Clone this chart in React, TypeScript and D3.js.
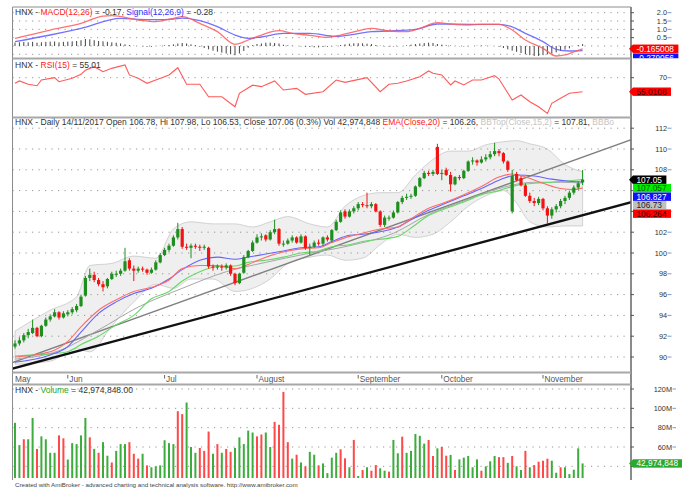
import React from "react";
import * as d3 from "d3";

const FONT = "'Liberation Sans', Arial, Helvetica, sans-serif";

// ---- Candles (HNX daily, mid-May .. 14/11/2017) ----
const opens = [
  91.0, 91.3, 91.6, 92.1, 92.3, 92.8, 92.0, 93.0, 93.6, 93.9,
  94.3, 93.8, 94.1, 94.3, 94.5, 94.9, 95.9, 97.6, 97.9, 97.4,
  97.0, 96.8, 97.5, 97.9, 98.0, 98.3, 99.3, 98.5, 98.3, 98.5,
  98.4, 98.1, 98.4, 99.1, 99.8, 100.3, 100.7, 101.5, 102.3, 100.6,
  100.5, 100.7, 100.6, 100.5, 100.5, 98.7, 98.6, 98.7, 98.6, 98.8,
  98.0, 97.1, 98.1, 99.6, 100.2, 101.0, 101.5, 101.7, 101.3, 102.0,
  102.3, 100.9, 100.9, 101.2, 101.5, 101.0, 101.6, 100.5, 100.6, 101.0,
  100.9, 101.5, 101.2, 102.2, 103.0, 104.0, 103.5, 104.0, 104.3, 104.7,
  104.6, 104.5, 104.7, 104.0, 102.7, 103.4, 103.4, 103.9, 104.9, 105.3,
  105.4, 105.5, 106.4, 107.2, 107.7, 107.6, 110.2, 107.6, 108.0, 107.5,
  106.6, 107.3, 107.2, 107.9, 108.8, 108.9, 108.7, 109.0, 109.2, 109.5,
  109.8, 109.6, 108.8, 104.0, 107.6, 107.2, 106.5, 105.5, 105.0, 104.8,
  105.2, 104.3, 103.6, 104.2, 104.5, 105.0, 105.3, 105.8, 106.3, 106.78,
];
const highs = [
  91.6, 91.9, 92.3, 92.7, 93.6, 92.9, 93.1, 93.8, 94.1, 94.6,
  94.4, 94.4, 94.5, 94.8, 95.1, 96.0, 97.8, 98.5, 98.2, 97.6,
  97.3, 97.6, 98.2, 98.3, 98.5, 100.5, 99.5, 98.8, 98.7, 98.7,
  98.5, 98.6, 99.3, 100.0, 100.5, 100.9, 101.7, 102.9, 102.5, 100.9,
  100.9, 100.9, 100.8, 100.8, 100.6, 98.9, 98.9, 98.9, 99.0, 98.9,
  98.1, 98.1, 99.8, 100.3, 101.2, 101.8, 101.9, 101.8, 102.2, 103.2,
  102.4, 101.2, 101.4, 101.7, 101.6, 101.8, 101.7, 100.9, 101.2, 101.3,
  101.6, 101.7, 102.3, 103.2, 104.1, 104.2, 104.2, 104.5, 104.9, 104.9,
  105.8, 104.9, 104.8, 104.1, 103.6, 103.6, 104.1, 105.0, 105.5, 105.7,
  105.7, 106.5, 107.3, 107.9, 107.9, 108.0, 110.5, 108.0, 108.2, 107.8,
  107.4, 107.5, 108.0, 108.9, 109.2, 109.0, 109.3, 109.5, 109.8, 110.6,
  110.0, 109.7, 108.9, 108.0, 107.8, 107.4, 106.7, 105.8, 105.3, 105.4,
  105.3, 104.5, 104.4, 104.7, 105.2, 105.5, 106.0, 106.5, 106.9, 107.98,
];
const lows = [
  90.8, 91.1, 91.4, 91.8, 92.2, 91.9, 91.9, 92.9, 93.4, 93.8,
  93.6, 93.7, 93.9, 94.1, 94.3, 94.8, 95.8, 97.3, 97.2, 96.8,
  96.3, 96.6, 97.4, 97.7, 97.8, 98.2, 98.3, 97.3, 98.1, 98.2,
  97.9, 98.0, 98.3, 99.0, 99.7, 100.1, 100.6, 101.3, 100.4, 100.3,
  99.5, 100.4, 100.2, 100.3, 98.5, 98.3, 98.4, 98.3, 98.4, 97.8,
  96.9, 97.0, 98.0, 99.5, 100.1, 100.9, 101.2, 101.1, 101.2, 101.8,
  100.7, 100.6, 100.8, 101.0, 100.9, 100.9, 100.3, 99.8, 100.5, 100.7,
  100.7, 101.1, 101.0, 102.1, 102.9, 103.3, 103.4, 103.8, 104.1, 104.4,
  104.3, 104.3, 103.9, 102.5, 102.5, 103.1, 103.3, 103.8, 104.7, 105.1,
  105.2, 105.4, 106.3, 107.1, 107.4, 107.4, 107.5, 107.0, 107.4, 105.9,
  106.5, 107.0, 107.1, 107.8, 108.5, 108.4, 108.6, 108.8, 109.0, 109.3,
  109.3, 108.6, 107.8, 103.8, 106.9, 106.4, 105.4, 104.8, 104.5, 104.6,
  104.1, 102.8, 103.3, 103.9, 104.3, 104.7, 105.1, 105.6, 106.1, 106.53,
];
const closes = [
  91.3, 91.6, 92.1, 92.4, 92.8, 92.0, 93.0, 93.6, 93.9, 94.3,
  93.8, 94.2, 94.3, 94.6, 94.9, 95.8, 97.6, 97.9, 97.4, 97.0,
  96.7, 97.5, 98.0, 98.0, 98.3, 99.2, 98.5, 98.3, 98.5, 98.4,
  98.1, 98.4, 99.1, 99.8, 100.3, 100.7, 101.5, 102.3, 100.6, 100.5,
  100.7, 100.6, 100.5, 100.6, 98.7, 98.6, 98.7, 98.6, 98.8, 98.0,
  97.1, 98.0, 99.6, 100.2, 101.0, 101.5, 101.6, 101.3, 102.0, 102.3,
  100.9, 100.9, 101.2, 101.5, 101.0, 101.6, 100.5, 100.6, 101.0, 100.9,
  101.5, 101.3, 102.2, 103.0, 103.9, 103.5, 104.0, 104.3, 104.7, 104.6,
  104.5, 104.7, 104.0, 102.7, 103.4, 103.4, 103.9, 104.9, 105.3, 105.4,
  105.5, 106.4, 107.2, 107.7, 107.6, 107.8, 107.6, 107.7, 107.5, 106.6,
  107.3, 107.2, 107.9, 108.8, 108.9, 108.7, 109.0, 109.2, 109.5, 109.8,
  109.6, 108.8, 108.0, 107.4, 107.0, 106.5, 105.5, 105.0, 104.8, 105.2,
  104.3, 103.6, 104.2, 104.5, 105.0, 105.3, 105.8, 106.3, 106.7, 107.06,
];

// ---- Volume (millions) and bar colour ----
const volumes = [
  85, 62, 68, 68, 90, 58, 71, 68, 54, 54, 72, 69, 47, 64, 63, 72, 90, 70, 58, 54,
  65, 51, 44, 56, 63, 63, 65, 53, 48, 53, 41, 39, 40, 41, 67, 64, 63, 97, 94, 106,
  60, 54, 59, 56, 76, 53, 63, 54, 58, 55, 59, 70, 63, 77, 75, 71, 73, 75, 60, 86,
  83, 117, 65, 48, 52, 44, 40, 55, 52, 41, 43, 33, 49, 54,
  57.6, 48.3, 39, 67.3, 30, 36.2, 39, 35.5, 41.3, 38, 35.5, 34.5, 67.3, 53.5, 70.7, 54,
  56, 73.5, 71.6, 63.5, 67.3, 50.7, 58.6, 60, 51, 51.8, 36.2, 47.2, 49, 50.7, 39, 47.2,
  35.5, 40, 45.2, 50.7, 49.5, 49.5, 43.6, 50.7, 40, 36.2, 56, 39, 41.3, 44.8, 45.8, 47.9,
  45.8, 33.4, 39, 39, 32, 36.5, 58.6, 42.97,
];
const volumeColors = (
  "ggrggrggggrrgggggrgrggrgggrrrgrggggggrrgggrrrgrgrr" +
  "gggggrrggrrrrgrgrgg" + "rggg" +
  "grrgrgrgrrggrggrgggggrrgrrgrgggggrgggrrgrggrgrrrrggrggggg"
).split("");

// ---- Indicators: [bar index, value] ----
const macdLine: [number, number][] = [
  [0, 0.46], [8, 0.96], [15, 1.36], [20, 1.8], [22, 1.83], [28, 1.56], [32, 1.46], [36, 1.66],
  [38, 1.76], [42, 1.36], [46, 0.86], [50, 0.1], [53, 0.36], [56, 0.66], [60, 0.92], [63, 0.76],
  [67, 0.64], [71, 0.52], [73, 0.6], [77, 0.85], [81, 1.06], [85, 0.9], [89, 0.86], [92, 1.06],
  [96, 1.4], [99, 1.32], [103, 1.26], [106, 1.3], [110, 1.3], [113, 0.96], [116, 0.36],
  [120, -0.14], [123, -0.6], [125, -0.54], [127, -0.35], [129, -0.17],
];
const signalLine: [number, number][] = [
  [0, 0.26], [8, 0.66], [15, 1.06], [24, 1.66], [28, 1.6], [32, 1.58], [36, 1.62], [38, 1.68],
  [42, 1.53], [46, 1.16], [50, 0.66], [53, 0.46], [56, 0.54], [61, 0.76], [67, 0.76], [73, 0.58],
  [77, 0.7], [81, 0.86], [85, 0.9], [91, 1.0], [96, 1.32], [104, 1.3], [110, 1.3], [113, 1.15],
  [116, 0.76], [120, 0.26], [123, -0.2], [126, -0.3], [129, -0.28],
];
const macdHist = [
  0.2, 0.22, 0.24, 0.22, 0.25, 0.2, 0.22, 0.25, 0.26, 0.27, 0.22,
  0.25, 0.26, 0.28, 0.3, 0.35, 0.42, 0.4, 0.35, 0.3,
  0.28, 0.25, 0.22, 0.2, 0.15,
  0.1, 0.05, 0.02, 0.0, -0.02, -0.05, -0.05, 0.0, 0.02, 0.04, 0.06,
  0.1, 0.15, 0.18, 0.15, 0.1, 0.05,
  -0.05, -0.12, -0.2, -0.28, -0.34, -0.4, -0.45, -0.5, -0.55, -0.45, -0.3,
  -0.1, 0.05, 0.12, 0.15, 0.2, 0.2, 0.18, 0.15,
  0.08, 0.04, 0.02, 0.0, -0.03, -0.05, -0.06, -0.08, -0.08, -0.06, -0.05, -0.02, 0.02,
  0.06, 0.1, 0.14, 0.16, 0.17, 0.16, 0.14, 0.12,
  0.06, 0.02, -0.02, -0.04, -0.03, -0.02, 0.0,
  0.04, 0.08, 0.12, 0.15, 0.18, 0.2, 0.18,
  0.12, 0.08, 0.05, 0.03, 0.0, -0.02, -0.03, -0.02, 0.0, 0.02, 0.03, 0.02, 0.01, 0.0,
  -0.05, -0.12, -0.2, -0.28, -0.35, -0.42, -0.5, -0.55, -0.6, -0.6, -0.55, -0.5, -0.45, -0.38, -0.3, -0.22, -0.14,
  0.0, 0.06, 0.11,
];
const rsiLine: [number, number][] = [
  [0, 64], [1, 66.5], [3, 62.9], [5, 61.4], [6, 67.5], [9, 70], [10, 65.7], [13, 69.3],
  [15, 73.6], [16, 78], [18, 81.8], [20, 76.4], [22, 80], [25, 83.6], [26, 73], [28, 69.3],
  [30, 64], [32, 67.5], [35, 72.9], [37, 80.7], [39, 63], [42, 63], [44, 49.6], [47, 49.6],
  [50, 38.9], [51, 53.3], [54, 62], [56, 60.4], [59, 66.5], [61, 56.8], [64, 58.6], [66, 52.2],
  [70, 55], [73, 67.5], [75, 65], [80, 70], [83, 55], [85, 63], [87, 64], [89, 66.5],
  [92, 71], [94, 77.2], [95, 74.7], [97, 72.9], [99, 62.2], [100, 66.5], [102, 62.2],
  [104, 67.5], [106, 67.5], [109, 72.2], [110, 68.6], [113, 46.1], [115, 51.5], [117, 44.3],
  [119, 38.9], [121, 31.8], [122, 42.6], [124, 48], [126, 53.3], [129, 55.01],
];
const emaRed: [number, number][] = [
  [0, 90.0], [8, 90.5], [12, 91.5], [15, 92.9], [19, 94.5], [23, 95.5], [27, 96.3], [31, 96.7],
  [35, 97.4], [38, 98.5], [42, 98.8], [46, 98.8], [50, 98.5], [53, 98.9], [57, 99.6], [61, 100.1],
  [65, 100.4], [69, 100.5], [72, 101.0], [76, 101.6], [79, 101.9], [83, 102.3], [87, 102.5],
  [90, 103.3], [94, 104.3], [98, 104.9], [102, 105.6], [106, 106.4], [110, 107.3], [113, 107.6],
  [116, 107.3], [120, 106.7], [124, 106.2], [127, 106.1], [129, 106.26],
];
const maBlue: [number, number][] = [
  [0, 89.5], [8, 90.2], [12, 91.0], [15, 92.4], [19, 94.2], [23, 95.3], [27, 96.1], [31, 96.6],
  [35, 97.5], [38, 98.4], [42, 99.3], [46, 99.6], [50, 99.4], [53, 99.6], [57, 99.9], [61, 100.2],
  [65, 100.5], [69, 100.6], [72, 101.1], [76, 101.7], [79, 101.8], [87, 102.5], [90, 103.2],
  [94, 104.1], [98, 104.8], [102, 105.5], [106, 106.2], [110, 107.0], [114, 107.5], [118, 107.4],
  [122, 107.1], [126, 106.9], [129, 106.83],
];
const maGreen: [number, number][] = [
  [0, 90.1], [8, 90.3], [12, 90.5], [15, 91.2], [19, 92.0], [23, 93.1], [27, 94.0], [31, 95.6],
  [35, 96.3], [38, 97.3], [42, 98.2], [46, 98.7], [50, 98.75], [53, 99.1], [57, 99.3], [61, 99.6],
  [65, 100.0], [69, 100.2], [72, 100.6], [76, 100.8], [79, 101.1], [87, 101.6], [90, 102.4],
  [94, 103.6], [98, 104.3], [102, 104.9], [106, 105.6], [110, 106.0], [114, 106.5], [118, 106.7],
  [122, 106.8], [126, 106.95], [129, 107.06],
];
const maGray: [number, number][] = [
  [0, 89.8], [10, 90.6], [19, 92.6], [28, 94.8], [38, 96.6], [48, 98.2], [57, 99.1], [66, 99.9],
  [76, 100.7], [86, 101.9], [94, 103.7], [102, 105.0], [110, 106.2], [118, 106.8], [124, 106.8],
  [129, 106.73],
];
const bbBand: [number, number, number][] = [
  [0, 92.5, 89.3], [8, 94.5, 89.6], [14, 95.8, 90.8], [17, 98.8, 90.5], [22, 99.0, 93.0],
  [27, 99.7, 95.3], [32, 99.5, 97.0], [36, 102.3, 96.6], [40, 103.0, 97.5], [45, 102.8, 97.5],
  [50, 102.8, 96.3], [54, 102.5, 96.6], [58, 103.0, 97.5], [62, 103.5, 99.0], [67, 102.8, 99.6],
  [71, 102.5, 99.8], [75, 104.5, 99.3], [79, 105.5, 99.5], [83, 105.8, 100.8], [87, 105.8, 101.8],
  [91, 107.5, 101.5], [95, 109.0, 101.8], [99, 109.8, 103.0], [103, 109.8, 104.5],
  [107, 110.4, 105.5], [111, 110.7, 106.0], [114, 110.8, 104.8], [117, 110.5, 103.0],
  [121, 110.0, 102.5], [125, 108.5, 102.6], [129, 107.81, 102.6],
];
const trendUpper: [number, number][] = [[-1, 89.4], [141, 111.05]];
const trendLower: [number, number][] = [[-1, 88.83], [141, 105.0]];

const monthNames = ["May", "Jun", "Jul", "August", "September", "October", "November"];
const monthStart = [0, 12, 34, 55, 78, 97, 120];
const priceTicks = [90, 92, 94, 96, 98, 100, 102, 104, 106, 108, 110, 112];
const priceTickLabels = [90, 92, 94, 96, 98, 100, 102, 108, 110, 112]; // 104/106 sit under value boxes
const macdTicks = [-0.5, 0, 0.5, 1, 1.5, 2];
const macdLabels = ["0.5", "1.0", "1.5", "2.0"];
const volTicks = [40, 60, 80, 100, 120];
const volTickLabels = [60, 80, 100, 120];

const L = 12.5;
const R = 631;

function textW(s: string, fs: number) {
  let w = 0;
  for (const c of s) {
    if (/[0-9]/.test(c)) w += 0.556;
    else if (c === "." || c === ",") w += 0.278;
    else if (c === "-") w += 0.333;
    else w += 0.6;
  }
  return w * fs;
}

function ValueBox({ y, text, bg, fg, arrow, h = 8.4 }: { y: number; text: string; bg: string; fg: string; arrow?: boolean; h?: number }) {
  const w = textW(text, 8.3) + 8;
  return (
    <g>
      {arrow && <polygon points={`${R - 2},${y} ${633},${y - h / 2} ${633},${y + h / 2}`} fill={bg} />}
      <rect x={633} y={y - h / 2} width={w} height={h} fill={bg} />
      <text x={636.5} y={y + 2.9} fontSize={8.3} fill={fg} fontFamily={FONT}>{text}</text>
    </g>
  );
}

function Dotted({ y }: { y: number }) {
  return <line x1={L} x2={R} y1={y} y2={y} stroke="#8a8a8a" strokeWidth={0.9} strokeDasharray="1.2 5.3" />;
}

export default function App() {
  const n = closes.length;
  const x = d3.scaleLinear().domain([0, n - 1]).range([15, 582.6]);
  const yM = d3.scaleLinear().domain([0, 2]).range([46, 12.7]);
  const yR = d3.scaleLinear().domain([55.01, 70]).range([91.7, 77.7]);
  const yP = d3.scaleLinear().domain([90, 112]).range([357, 128.2]);
  const yV = d3.scaleLinear().domain([60, 120]).range([447, 389]);

  const mk = (ys: d3.ScaleLinear<number, number>) =>
    d3.line<[number, number]>().x((d) => x(d[0])).y((d) => ys(d[1])).curve(d3.curveMonotoneX);
  const straight = (ys: d3.ScaleLinear<number, number>) =>
    d3.line<[number, number]>().x((d) => x(d[0])).y((d) => ys(d[1]));
  const band = d3
    .area<[number, number, number]>()
    .x((d) => x(d[0]))
    .y0((d) => yP(d[2]))
    .y1((d) => yP(d[1]))
    .curve(d3.curveMonotoneX);

  const green = "#1e8f1e";
  const red = "#f01414";
  const volBottom = 478;

  return (
    <svg
      width={682}
      height={488}
      viewBox="0 0 682 488"
      style={{ position: "absolute", left: 0, top: 0, background: "#fff" }}
      fontFamily={FONT}
    >
      <defs>
        <clipPath id="cM"><rect x={L} y={7.5} width={R - L} height={50.5} /></clipPath>
        <clipPath id="cR"><rect x={L} y={59.5} width={R - L} height={57} /></clipPath>
        <clipPath id="cP"><rect x={L} y={118.5} width={R - L} height={253.5} /></clipPath>
        <clipPath id="cV"><rect x={L} y={385.5} width={R - L} height={93} /></clipPath>
        <clipPath id="cPT"><rect x={L} y={110} width={628 - L} height={20} /></clipPath>
        <clipPath id="cMR"><rect x={R - 3} y={0} width={60} height={58.2} /></clipPath>
      </defs>
      <rect x={0} y={0} width={682} height={488} fill="#fff" />

      {/* ===== MACD pane ===== */}
      {macdTicks.map((t) => <Dotted key={"m" + t} y={yM(t)} />)}
      <g clipPath="url(#cM)">
        {macdHist.map((h, i) => (
          <line key={i} x1={x(i)} x2={x(i)} y1={yM(0)} y2={yM(h)} stroke="#444" strokeWidth={1} />
        ))}
        <path d={mk(yM)(signalLine) || ""} fill="none" stroke="#5a5aff" strokeWidth={1.3} strokeOpacity={0.85} />
        <path d={mk(yM)(macdLine) || ""} fill="none" stroke="#ff5a5a" strokeWidth={1.3} strokeOpacity={0.85} />
      </g>
      <text x={15} y={15} fontSize={8.5} fill="#333">
        HNX - <tspan fill="#ff2020">MACD(12,26)</tspan> = -0.17, <tspan fill="#3030ff">Signal(12,26,9)</tspan> = -0.28
      </text>

      {/* ===== RSI pane ===== */}
      <Dotted y={yR(70)} />
      <g clipPath="url(#cR)">
        <path d={straight(yR)(rsiLine) || ""} fill="none" stroke="#ff5a5a" strokeWidth={1.1} />
      </g>
      <text x={15} y={67.5} fontSize={8.5} fill="#333">
        HNX - <tspan fill="#ff2020">RSI(15)</tspan> = 55.01
      </text>

      {/* ===== Price pane ===== */}
      <g clipPath="url(#cP)">
        <path d={band(bbBand) || ""} fill="#efefef" stroke="#c8c8c8" strokeWidth={0.8} />
        {priceTicks.map((t) => <Dotted key={"p" + t} y={yP(t)} />)}
        <path d={straight(yP)(trendUpper) || ""} stroke="#808080" strokeWidth={1.4} fill="none" />
        <path d={straight(yP)(trendLower) || ""} stroke="#111" strokeWidth={2.3} fill="none" />
        <path d={mk(yP)(maGray) || ""} fill="none" stroke="#a6a6a6" strokeWidth={1} />
        <path d={mk(yP)(maGreen) || ""} fill="none" stroke="#66d866" strokeWidth={1.1} />
        <path d={mk(yP)(maBlue) || ""} fill="none" stroke="#6464ff" strokeWidth={1.1} />
        <path d={mk(yP)(emaRed) || ""} fill="none" stroke="#ff6a6a" strokeWidth={1.1} />
        {closes.map((c, i) => {
          const o = opens[i];
          const up = c >= o;
          const col = up ? green : red;
          const top = yP(Math.max(o, c));
          const h = Math.max(1, Math.abs(yP(o) - yP(c)));
          return (
            <g key={i}>
              <line x1={x(i)} x2={x(i)} y1={yP(highs[i])} y2={yP(lows[i])} stroke={col} strokeWidth={1} />
              <rect x={x(i) - 1.6} y={top} width={3.2} height={h} fill={col} />
            </g>
          );
        })}
      </g>
      <g clipPath="url(#cPT)">
        <text x={15} y={124.5} fontSize={8.5} fill="#333">
          HNX - Daily 14/11/2017 Open 106.78, Hi 107.98, Lo 106.53, Close 107.06 (0.3%) Vol 42,974,848{" "}
          <tspan fill="#ff2020">EMA(Close,20)</tspan> = 106.26, <tspan fill="#c4c4c4">BBTop(Close,15,2)</tspan> = 107.81,{" "}
          <tspan fill="#c4c4c4">BBBo</tspan>
        </text>
      </g>

      {/* ===== Month strip ===== */}
      {monthNames.map((m, k) => (
        <g key={m}>
          {k > 0 && <line x1={x(monthStart[k])} x2={x(monthStart[k])} y1={375} y2={378.5} stroke="#555" strokeWidth={0.9} />}
          <text x={k > 0 ? x(monthStart[k]) + 1.5 : 15} y={382.3} fontSize={8.3} fill="#555">{m}</text>
        </g>
      ))}

      {/* ===== Volume pane ===== */}
      {volTicks.map((t) => <Dotted key={"v" + t} y={yV(t)} />)}
      <g clipPath="url(#cV)">
        {volumes.map((v, i) => (
          <rect
            key={i}
            x={x(i) - 1}
            y={yV(v)}
            width={2}
            height={volBottom - yV(v)}
            fill={volumeColors[i] === "g" ? "#3cac3c" : "#ff4848"}
          />
        ))}
      </g>
      <text x={15} y={393} fontSize={8.5} fill="#333">
        HNX - <tspan fill="#2aa82a">Volume</tspan> = 42,974,848.00
      </text>

      {/* ===== Frames ===== */}
      <line x1={L} x2={L} y1={7} y2={480} stroke="#8c8c8c" strokeWidth={1} />
      <line x1={R} x2={R} y1={7} y2={480} stroke="#6e6e6e" strokeWidth={1.6} />
      <line x1={L} x2={R} y1={7} y2={7} stroke="#8c8c8c" strokeWidth={1} />
      {[58.5, 117.5, 372.5, 384.5].map((y) => (
        <rect key={y} x={L} y={y - 1} width={R - L} height={2} fill="#a8a8a8" />
      ))}

      {/* ===== Right axis labels ===== */}
      {macdTicks.filter((t) => t >= 0).map((t) => (
        <g key={"mt" + t}>
          <line x1={R} x2={R + 3} y1={yM(t)} y2={yM(t)} stroke="#555" />
          <line x1={667.5} x2={671.5} y1={yM(t)} y2={yM(t)} stroke="#7a9ccc" />
        </g>
      ))}
      {macdLabels.map((s, k) => (
        <text key={s} x={667} y={yM((k + 1) * 0.5) + 2.6} fontSize={7.3} textAnchor="end" fill="#333">{s}</text>
      ))}
      <g>
        <line x1={R} x2={R + 3} y1={yR(70)} y2={yR(70)} stroke="#555" />
        <text x={667} y={yR(70) + 2.6} fontSize={7.3} textAnchor="end" fill="#333">70</text>
        <line x1={667.5} x2={671.5} y1={yR(70)} y2={yR(70)} stroke="#7a9ccc" />
      </g>
      {priceTicks.map((t) => (
        <g key={"pt" + t}>
          <line x1={R} x2={R + 3} y1={yP(t)} y2={yP(t)} stroke="#555" />
          <line x1={667.5} x2={671.5} y1={yP(t)} y2={yP(t)} stroke="#7a9ccc" />
        </g>
      ))}
      {priceTickLabels.map((t) => (
        <text key={"pl" + t} x={667} y={yP(t) + 2.6} fontSize={7.3} textAnchor="end" fill="#333">{t}</text>
      ))}
      {volTicks.map((t) => (
        <line key={"vt" + t} x1={R} x2={R + 3} y1={yV(t)} y2={yV(t)} stroke="#555" />
      ))}
      {volTickLabels.map((t) => (
        <g key={"vl" + t}>
          <text x={672} y={yV(t) + 2.6} fontSize={7.3} textAnchor="end" fill="#333">{t}M</text>
          <line x1={672.5} x2={676} y1={yV(t)} y2={yV(t)} stroke="#7a9ccc" />
        </g>
      ))}

      {/* ===== Value boxes ===== */}
      <g clipPath="url(#cMR)">
        <ValueBox y={yM(-0.165)} text="-0.165008" bg="#ff0000" fg="#fff" arrow />
        <ValueBox y={57.6} text="-0.279056" bg="#1010ff" fg="#fff" />
      </g>
      <ValueBox y={yR(55.01)} text="55.0108" bg="#ff0000" fg="#300" arrow />
      <ValueBox y={yP(107.05)} text="107.05" bg="#000" fg="#fff" arrow />
      <ValueBox y={yP(107.05) + 8.5} text="107.057" bg="#00ee00" fg="#035003" />
      <ValueBox y={yP(107.05) + 17} text="106.827" bg="#1010ff" fg="#fff" />
      <ValueBox y={yP(107.05) + 25.5} text="106.73" bg="#c0c0c0" fg="#222" />
      <ValueBox y={yP(107.05) + 34} text="106.264" bg="#ff0000" fg="#300" />
      <ValueBox y={yV(42.97)} text="42,974,848" bg="#2ca82c" fg="#fff" arrow />

      <text x={15} y={486.5} fontSize={6.2} fill="#444">
        Created with AmiBroker - advanced charting and technical analysis software. http://www.amibroker.com
      </text>
    </svg>
  );
}
